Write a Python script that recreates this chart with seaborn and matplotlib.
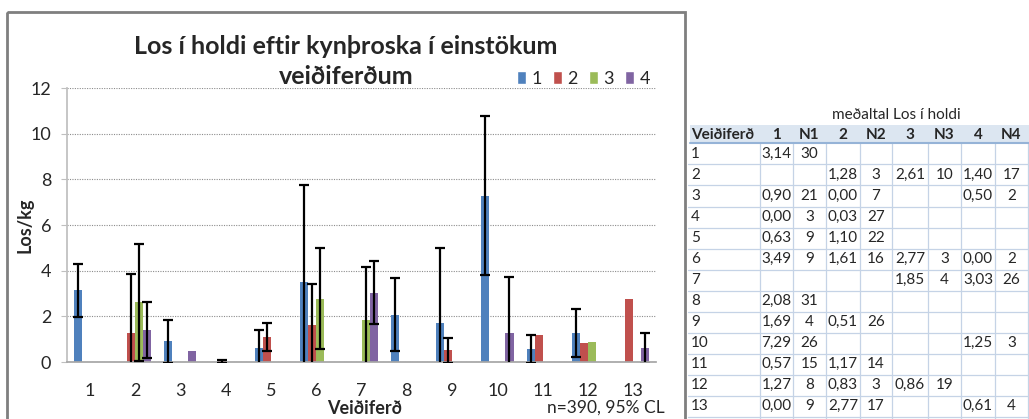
import matplotlib
matplotlib.use('Agg')
import matplotlib.pyplot as plt
import matplotlib.colors as mcolors
from matplotlib.patches import Rectangle, Patch
from matplotlib.container import BarContainer
import seaborn as sns
import pandas as pd

# gögn: meðaltal los í holdi eftir veiðiferð og kynþroska
trips = list(range(1, 14))
series = ['1', '2', '3', '4']
mean1 = [3.14, None, 0.90, 0.00, 0.63, 3.49, None, 2.08, 1.69, 7.29, 0.57, 1.27, 0.00]
n1 = [30, None, 21, 3, 9, 9, None, 31, 4, 26, 15, 8, 9]
mean2 = [None, 1.28, 0.00, 0.03, 1.10, 1.61, None, None, 0.51, None, 1.17, 0.83, 2.77]
n2 = [None, 3, 7, 27, 22, 16, None, None, 26, None, 14, 3, 17]
mean3 = [None, 2.61, None, None, None, 2.77, 1.85, None, None, None, None, 0.86, None]
n3 = [None, 10, None, None, None, 3, 4, None, None, None, None, 19, None]
mean4 = [None, 1.40, 0.50, None, None, 0.00, 3.03, None, None, 1.25, None, None, 0.61]
n4 = [None, 17, 2, None, None, 2, 26, None, None, 3, None, None, 4]

# 95% CL hálfbreidd (lesið af myndinni)
err1 = [1.16, None, 0.95, None, 0.78, 4.25, None, 1.60, 3.30, 3.47, 0.62, 1.05, None]
err2 = [None, 2.56, None, 0.06, 0.60, 1.82, None, None, 0.56, None, None, None, None]
err3 = [None, 2.57, None, None, None, 2.22, 2.30, None, None, None, None, None, None]
err4 = [None, 1.23, None, None, None, None, 1.38, None, None, 2.47, None, None, 0.68]

colors = ['#4F81BD', '#C0504D', '#9BBB59', '#8064A2']

rows = []
for s, means in zip(series, [mean1, mean2, mean3, mean4]):
    for t, m in zip(trips, means):
        if m is not None:
            rows.append({'Veiðiferð': str(t), 'hópur': s, 'Los': m})
df = pd.DataFrame(rows)

sns.set_theme(style='white')
plt.rcParams['font.family'] = ['Lato', 'DejaVu Sans']

W, H = 1029, 419
fig = plt.figure(figsize=(W / 100, H / 100), dpi=100)
ax = fig.add_axes([67 / W, 57 / H, 589 / W, 274 / H])

sns.barplot(data=df, x='Veiðiferð', y='Los', hue='hópur',
            order=[str(t) for t in trips], hue_order=series,
            palette=colors, width=0.71, saturation=1, errorbar=None,
            linewidth=0, legend=False, ax=ax)
ax.set_ylim(0, 12)
ax.set_xlim(-0.5, 12.5)

# villustrik
hex_to_series = {mcolors.to_hex(c): s for c, s in zip(colors, series)}
errs = dict(zip(series, [err1, err2, err3, err4]))
bar_conts = [c for c in ax.containers if isinstance(c, BarContainer)]
for cont in bar_conts:
    for bar in cont:
        s = hex_to_series.get(mcolors.to_hex(bar.get_facecolor()))
        if s is None:
            continue
        cx = bar.get_x() + bar.get_width() / 2
        e = errs[s][int(round(cx))]
        if e is None:
            continue
        ax.errorbar(cx, bar.get_height(), yerr=e, fmt='none', ecolor='black',
                    elinewidth=1.6, capsize=3.3, capthick=1.6, zorder=5)

ax.set_yticks(range(0, 13, 2))
ax.yaxis.grid(True, linestyle=(0, (1, 1.2)), color='#8C8C8C', linewidth=0.8)
ax.set_axisbelow(True)
sns.despine(ax=ax)
ax.spines['left'].set_color('#BFBFBF')
ax.spines['bottom'].set_color('#A6A6A6')
ax.tick_params(axis='y', left=True, length=4.3, width=0.8, color='#BFBFBF',
               pad=7, labelsize=13, labelcolor='#262626')
ax.tick_params(axis='x', length=0, pad=15, labelsize=13, labelcolor='#262626')

ax.set_ylabel('Los/kg', fontsize=13, fontweight='bold')
ax.yaxis.set_label_coords(-0.057, 0.5)
ax.set_xlabel('Veiðiferð', fontsize=13, fontweight='bold')
ax.xaxis.set_label_coords(0.505, -0.14)

# titill í tveimur línum
fig.text(346 / W, 1 - 47 / H, 'Los í holdi eftir kynþroska í einstökum',
         ha='center', va='center', fontsize=18, fontweight='bold')
fig.text(346 / W, 1 - 76 / H, 'veiðiferðum',
         ha='center', va='center', fontsize=18, fontweight='bold')
fig.text(665 / W, 1 - 408 / H, 'n=390, 95% CL', ha='right', va='center',
         fontsize=12.5, color='#262626')

handles = [Patch(facecolor=c, label=s) for c, s in zip(colors, series)]
ax.legend(handles=handles, ncol=4, loc='center right',
          bbox_to_anchor=(650 / W, 1 - 78.5 / H), bbox_transform=fig.transFigure,
          frameon=False, fontsize=13, handlelength=0.5, handleheight=0.7,
          handletextpad=0.3, columnspacing=0.62, borderpad=0, borderaxespad=0)

# yfirlag í pixlahnitum: rammi og tafla
ov = fig.add_axes([0, 0, 1, 1], facecolor='none')
ov.set_xlim(0, W)
ov.set_ylim(H, 0)
ov.axis('off')
ov.add_patch(Rectangle((7, 12), 678, 430, fill=False, edgecolor='#7F7F7F', linewidth=2))

col_edges = [688, 760, 793, 826, 860, 892, 928, 961, 995, 1028]
headers = ['Veiðiferð', '1', 'N1', '2', 'N2', '3', 'N3', '4', 'N4']
table_cols = [mean1, n1, mean2, n2, mean3, n3, mean4, n4]
head_top, head_bot, row_h = 125, 143.5, 21

ov.text(896, 115, 'meðaltal Los í holdi', ha='center', va='center', fontsize=11)
ov.add_patch(Rectangle((690, head_top), W - 690, head_bot - head_top,
                       facecolor='#DCE6F1', edgecolor='none'))
for k in range(1, 14):
    y = head_bot + row_h * k
    ov.plot([688, W], [y, y], color='#C5D3E6', linewidth=0.9)
for x in col_edges[1:]:
    ov.plot([x, x], [head_bot, H], color='#C5D3E6', linewidth=0.9)
ov.plot([690, W], [head_bot, head_bot], color='#95B3D7', linewidth=1.5)

for j, h in enumerate(headers):
    if j == 0:
        ov.text(691, 134.5, h, ha='left', va='center', fontsize=11, fontweight='bold')
    else:
        ov.text((col_edges[j] + col_edges[j + 1]) / 2, 134.5, h, ha='center',
                va='center', fontsize=11, fontweight='bold')

for i, t in enumerate(trips):
    yc = head_bot + row_h * i + row_h / 2
    ov.text(691, yc, str(t), ha='left', va='center', fontsize=11)
    for j, col in enumerate(table_cols):
        v = col[i]
        if v is None:
            continue
        txt = f'{v:.2f}'.replace('.', ',') if j % 2 == 0 else str(v)
        ov.text((col_edges[j + 1] + col_edges[j + 2]) / 2, yc, txt,
                ha='center', va='center', fontsize=11)

fig.savefig('out.png', dpi=100)
